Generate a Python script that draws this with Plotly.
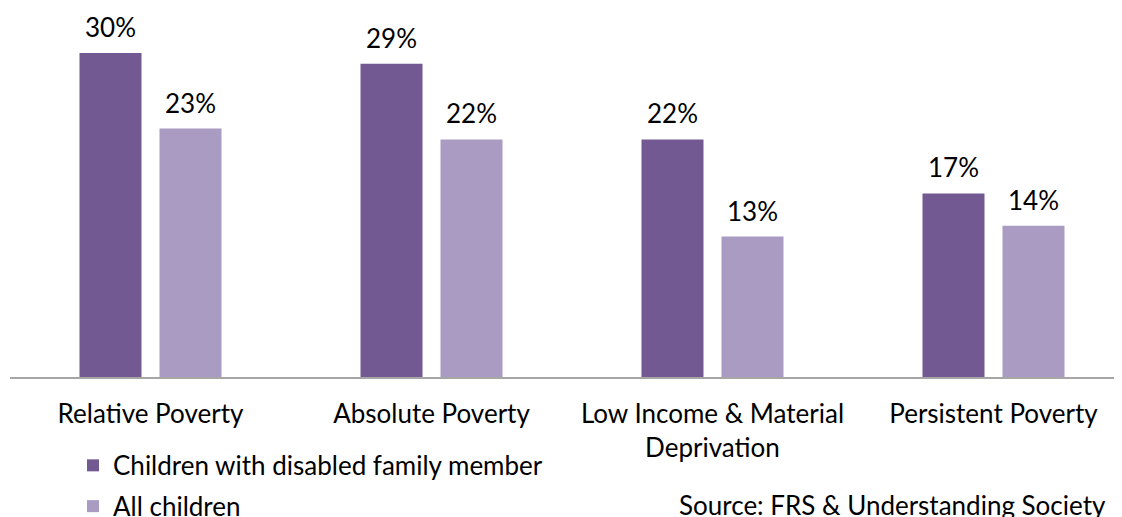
import plotly.graph_objects as go

categories = ["Relative Poverty", "Absolute Poverty", "Low Income & Material<br>Deprivation", "Persistent Poverty"]
disabled_family = [30, 29, 22, 17]
all_children = [23, 22, 13, 14]
series_names = ["Children with disabled family member", "All children"]
colors = ["#725991", "#a99bc1"]

FONT = "Lato"
FS = 26
BARGAP = 0.4306
x_pos = list(range(len(categories)))

fig = go.Figure()
for name, vals, col in zip(series_names, [disabled_family, all_children], colors):
    fig.add_trace(go.Bar(x=x_pos, y=vals, name=name, marker=dict(color=col, line=dict(width=0)),
                         legendgroup=name))

half = (1 - BARGAP) / 4
for vals, sgn in [(disabled_family, -1), (all_children, 1)]:
    for i, v in enumerate(vals):
        fig.add_annotation(x=i + sgn * half, y=v, xref="x", yref="y", text=f"{v}%",
                           showarrow=False, yanchor="middle", yshift=26,
                           font=dict(family=FONT, size=FS, color="#000000"))

fig.add_annotation(x=0.9804, y=-0.3469, xref="paper", yref="paper",
                   text="Source: FRS &amp; Understanding Society", showarrow=False,
                   xanchor="right", yanchor="middle",
                   font=dict(family=FONT, size=FS, color="#000000"))

fig.update_layout(
    width=1122, height=517,
    margin=dict(l=2, r=0, t=0, b=148, autoexpand=False),
    paper_bgcolor="white", plot_bgcolor="white",
    barmode="group", bargap=BARGAP, bargroupgap=0.225,
    font=dict(family=FONT, size=FS, color="#000000"),
    xaxis=dict(tickvals=x_pos, ticktext=categories, range=[-0.5, 3.4858],
               showline=True, linecolor="#a6a6a6", linewidth=2, showgrid=False,
               zeroline=False, ticks="", ticklabelstandoff=13, automargin=False,
               tickfont=dict(family=FONT, size=FS, color="#000000")),
    yaxis=dict(range=[0, 34.17], visible=False, automargin=False),
    legend=dict(orientation="v", x=0.05625, y=-0.176, xanchor="left", yanchor="top",
                tracegroupgap=4, font=dict(family=FONT, size=FS, color="#000000"),
                bgcolor="rgba(0,0,0,0)"),
    showlegend=True,
)

fig.write_html("out.html")
